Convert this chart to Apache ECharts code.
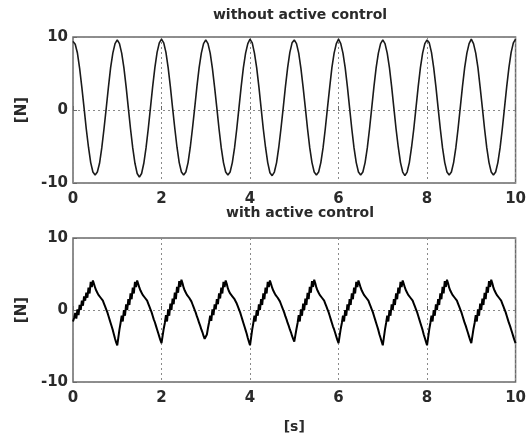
<!DOCTYPE html>
<html>
<head>
<meta charset="utf-8">
<script src="https://cdn.jsdelivr.net/npm/echarts@6/dist/echarts.min.js"></script>
<style>
  html, body { margin: 0; padding: 0; background: #fff; }
  #chart { width: 529px; height: 435px; }
</style>
</head>
<body>
<div id="chart"></div>
<script>
// Force signals [N] over time [s], with and without active control.
const titles = ['without active control', 'with active control'];
const xTicks = [0, 2, 4, 6, 8, 10];
const yTicks = [-10, 0, 10];
const xAxisName = '[s]';
const yAxisName = '[N]';

// Sample spacing of the two recordings [s]
const stepOpen = 0.05;
const stepCtrl = 0.025;

// Force without control, one period per row
const forceOpen = [
  9.4, 9.0, 7.8, 5.7, 3.1, 0.3, -2.6, -5.1, -7.2, -8.5, -8.9, -8.5, -7.3, -5.2, -2.6, 0.2, 3.1, 5.8, 7.8, 9.1,
  9.6, 9.1, 7.8, 5.8, 3.2, 0.3, -2.6, -5.2, -7.3, -8.7, -9.2, -8.7, -7.3, -5.2, -2.6, 0.3, 3.2, 5.8, 7.9, 9.2,
  9.7, 9.2, 7.9, 5.8, 3.2, 0.3, -2.5, -5.1, -7.2, -8.5, -8.9, -8.5, -7.2, -5.1, -2.5, 0.3, 3.2, 5.8, 7.8, 9.1,
  9.6, 9.1, 7.8, 5.7, 3.1, 0.3, -2.6, -5.2, -7.2, -8.5, -8.9, -8.5, -7.2, -5.2, -2.6, 0.3, 3.2, 5.8, 7.8, 9.1,
  9.7, 9.2, 7.8, 5.8, 3.2, 0.3, -2.6, -5.1, -7.2, -8.6, -9.0, -8.5, -7.2, -5.1, -2.5, 0.3, 3.2, 5.8, 7.9, 9.2,
  9.6, 9.1, 7.8, 5.7, 3.1, 0.3, -2.6, -5.2, -7.2, -8.5, -8.9, -8.5, -7.2, -5.2, -2.6, 0.3, 3.1, 5.8, 7.8, 9.1,
  9.7, 9.1, 7.8, 5.8, 3.2, 0.3, -2.6, -5.2, -7.2, -8.5, -8.9, -8.5, -7.2, -5.2, -2.6, 0.3, 3.2, 5.8, 7.8, 9.1,
  9.6, 9.1, 7.8, 5.8, 3.2, 0.3, -2.6, -5.1, -7.2, -8.5, -9.0, -8.5, -7.2, -5.1, -2.6, 0.3, 3.2, 5.8, 7.8, 9.1,
  9.6, 9.2, 7.9, 5.8, 3.2, 0.3, -2.6, -5.2, -7.2, -8.5, -8.9, -8.5, -7.2, -5.2, -2.6, 0.3, 3.2, 5.8, 7.8, 9.1,
  9.7, 9.1, 7.8, 5.8, 3.1, 0.3, -2.6, -5.2, -7.2, -8.5, -8.9, -8.5, -7.2, -5.2, -2.6, 0.3, 3.2, 5.8, 7.9, 9.2,
  9.7
];

// Force with active control, one period per row (fast ripple on each rise)
const forceCtrl = [
  -1.6, -1.1, -0.4, -1.2, 0.1, -0.7, 0.7, 0.0, 1.3, 0.6, 1.9, 1.3, 2.4, 1.7, 3.1, 2.3, 3.9, 3.2, 4.1, 3.6, 3.1, 2.7, 2.4, 2.1, 1.9, 1.7, 1.5, 1.3, 0.9, 0.5, 0.1, -0.3, -0.8, -1.3, -1.8, -2.3, -2.8, -3.4, -4.0, -4.5,
  -4.9, -3.8, -2.7, -1.8, -0.8, -1.6, 0.0, -0.8, 0.8, 0.0, 1.5, 0.7, 2.3, 1.5, 3.1, 2.3, 3.9, 3.2, 4.1, 3.6, 3.1, 2.7, 2.4, 2.1, 1.9, 1.7, 1.5, 1.3, 0.9, 0.5, 0.1, -0.3, -0.8, -1.3, -1.7, -2.2, -2.7, -3.2, -3.7, -4.2,
  -4.6, -3.6, -2.6, -1.8, -0.7, -1.6, 0.1, -0.8, 0.9, 0.0, 1.6, 0.8, 2.4, 1.5, 3.2, 2.4, 4.0, 3.2, 4.2, 3.7, 3.1, 2.7, 2.4, 2.1, 1.9, 1.7, 1.5, 1.2, 0.8, 0.4, 0.0, -0.4, -0.9, -1.3, -1.8, -2.2, -2.7, -3.1, -3.6, -4.0,
  -4.2, -3.4, -2.5, -1.7, -0.8, -1.5, 0.1, -0.7, 0.8, 0.1, 1.5, 0.8, 2.3, 1.6, 3.1, 2.3, 3.9, 3.2, 4.1, 3.6, 3.0, 2.6, 2.3, 2.1, 1.9, 1.7, 1.5, 1.3, 0.9, 0.5, 0.1, -0.3, -0.8, -1.3, -1.8, -2.3, -2.8, -3.3, -3.9, -4.4,
  -4.9, -3.8, -2.7, -1.8, -0.8, -1.6, 0.0, -0.8, 0.8, 0.0, 1.5, 0.7, 2.3, 1.5, 3.1, 2.3, 3.9, 3.2, 4.1, 3.6, 3.1, 2.7, 2.4, 2.1, 1.9, 1.7, 1.5, 1.2, 0.8, 0.4, 0.0, -0.4, -0.9, -1.3, -1.8, -2.2, -2.7, -3.1, -3.6, -4.0,
  -4.4, -3.5, -2.6, -1.8, -0.7, -1.6, 0.1, -0.8, 0.9, 0.0, 1.6, 0.7, 2.4, 1.5, 3.2, 2.4, 4.0, 3.2, 4.2, 3.7, 3.1, 2.7, 2.4, 2.1, 1.9, 1.7, 1.5, 1.3, 0.9, 0.5, 0.1, -0.3, -0.8, -1.3, -1.8, -2.3, -2.7, -3.2, -3.7, -4.2,
  -4.6, -3.6, -2.6, -1.8, -0.8, -1.6, 0.0, -0.8, 0.8, 0.0, 1.5, 0.7, 2.3, 1.5, 3.1, 2.3, 3.9, 3.2, 4.1, 3.6, 3.1, 2.7, 2.4, 2.1, 1.9, 1.7, 1.5, 1.3, 0.9, 0.5, 0.1, -0.3, -0.8, -1.3, -1.8, -2.3, -2.8, -3.4, -3.9, -4.4,
  -4.9, -3.8, -2.7, -1.8, -0.8, -1.6, 0.0, -0.8, 0.8, 0.0, 1.5, 0.7, 2.3, 1.5, 3.1, 2.3, 3.9, 3.2, 4.1, 3.6, 3.1, 2.7, 2.4, 2.1, 1.9, 1.7, 1.5, 1.3, 0.9, 0.5, 0.1, -0.3, -0.8, -1.3, -1.8, -2.3, -2.8, -3.4, -3.9, -4.4,
  -4.9, -3.8, -2.7, -1.8, -0.8, -1.6, 0.0, -0.8, 0.8, 0.0, 1.5, 0.7, 2.3, 1.5, 3.2, 2.3, 4.0, 3.2, 4.2, 3.7, 3.1, 2.7, 2.4, 2.1, 1.9, 1.7, 1.5, 1.3, 0.9, 0.5, 0.1, -0.3, -0.8, -1.3, -1.8, -2.2, -2.7, -3.2, -3.7, -4.2,
  -4.6, -3.6, -2.6, -1.8, -0.7, -1.6, 0.1, -0.8, 0.9, 0.0, 1.6, 0.7, 2.4, 1.5, 3.2, 2.4, 4.0, 3.2, 4.2, 3.7, 3.1, 2.7, 2.4, 2.1, 1.9, 1.7, 1.5, 1.3, 0.9, 0.5, 0.1, -0.3, -0.8, -1.3, -1.8, -2.2, -2.7, -3.2, -3.7, -4.2,
  -4.6
];

function withTime(values, step) {
  return values.map((v, i) => [+(i * step).toFixed(3), v]);
}

const FONT = 'DejaVu Sans';
const textColor = '#2a2a2a';
const frameColor = '#6a6a6a';

const plotLeft = 73;
const plotWidth = 444;
const plotHeight = 146;
const plotTops = [37, 238];

const labelStyle = { fontFamily: FONT, fontSize: 15, fontWeight: 'bold', color: textColor };

function makeGrid(top) {
  return {
    left: plotLeft, top: top, width: plotWidth, height: plotHeight,
    show: true, borderColor: frameColor, borderWidth: 1.5,
    backgroundColor: 'transparent', containLabel: false
  };
}

function makeXAxis(gridIndex, withName) {
  return {
    type: 'value', gridIndex: gridIndex,
    min: xTicks[0], max: xTicks[xTicks.length - 1], interval: 2,
    name: withName ? xAxisName : '',
    nameLocation: 'middle', nameGap: 38,
    nameTextStyle: Object.assign({}, labelStyle, { fontSize: 14 }),
    axisLine: { show: false },
    axisTick: { show: true, inside: true, length: 4, lineStyle: { color: frameColor } },
    axisLabel: Object.assign({ margin: 9 }, labelStyle),
    splitLine: { show: true, lineStyle: { color: '#8a8a8a', type: [2, 3], width: 1 } }
  };
}

function makeYAxis(gridIndex) {
  return {
    type: 'value', gridIndex: gridIndex,
    min: yTicks[0], max: yTicks[yTicks.length - 1], interval: 10,
    name: yAxisName, nameLocation: 'middle', nameGap: 41, nameRotate: 90,
    nameTextStyle: Object.assign({}, labelStyle, { fontSize: 15 }),
    axisLine: { show: false },
    axisTick: { show: true, inside: true, length: 4, lineStyle: { color: frameColor } },
    axisLabel: Object.assign({ margin: 5 }, labelStyle),
    splitLine: { show: true, lineStyle: { color: '#8a8a8a', type: [2, 3], width: 1 } }
  };
}

const chart = echarts.init(document.getElementById('chart'), null, { renderer: 'canvas' });

chart.setOption({
  animation: false,
  backgroundColor: '#fff',
  title: [
    { text: titles[0], left: plotLeft + plotWidth / 2, top: 3, textAlign: 'center',
      textStyle: Object.assign({}, labelStyle, { fontSize: 14 }) },
    { text: titles[1], left: plotLeft + plotWidth / 2, top: 201, textAlign: 'center',
      textStyle: Object.assign({}, labelStyle, { fontSize: 14 }) }
  ],
  grid: plotTops.map(makeGrid),
  xAxis: [makeXAxis(0, false), makeXAxis(1, true)],
  yAxis: [makeYAxis(0), makeYAxis(1)],
  series: [
    {
      type: 'line', xAxisIndex: 0, yAxisIndex: 0,
      data: withTime(forceOpen, stepOpen),
      showSymbol: false, smooth: false,
      lineStyle: { color: '#1a1a1a', width: 1.6 }
    },
    {
      type: 'line', xAxisIndex: 1, yAxisIndex: 1,
      data: withTime(forceCtrl, stepCtrl),
      showSymbol: false, smooth: false,
      lineStyle: { color: '#000', width: 2 }
    }
  ]
});
</script>
</body>
</html>
